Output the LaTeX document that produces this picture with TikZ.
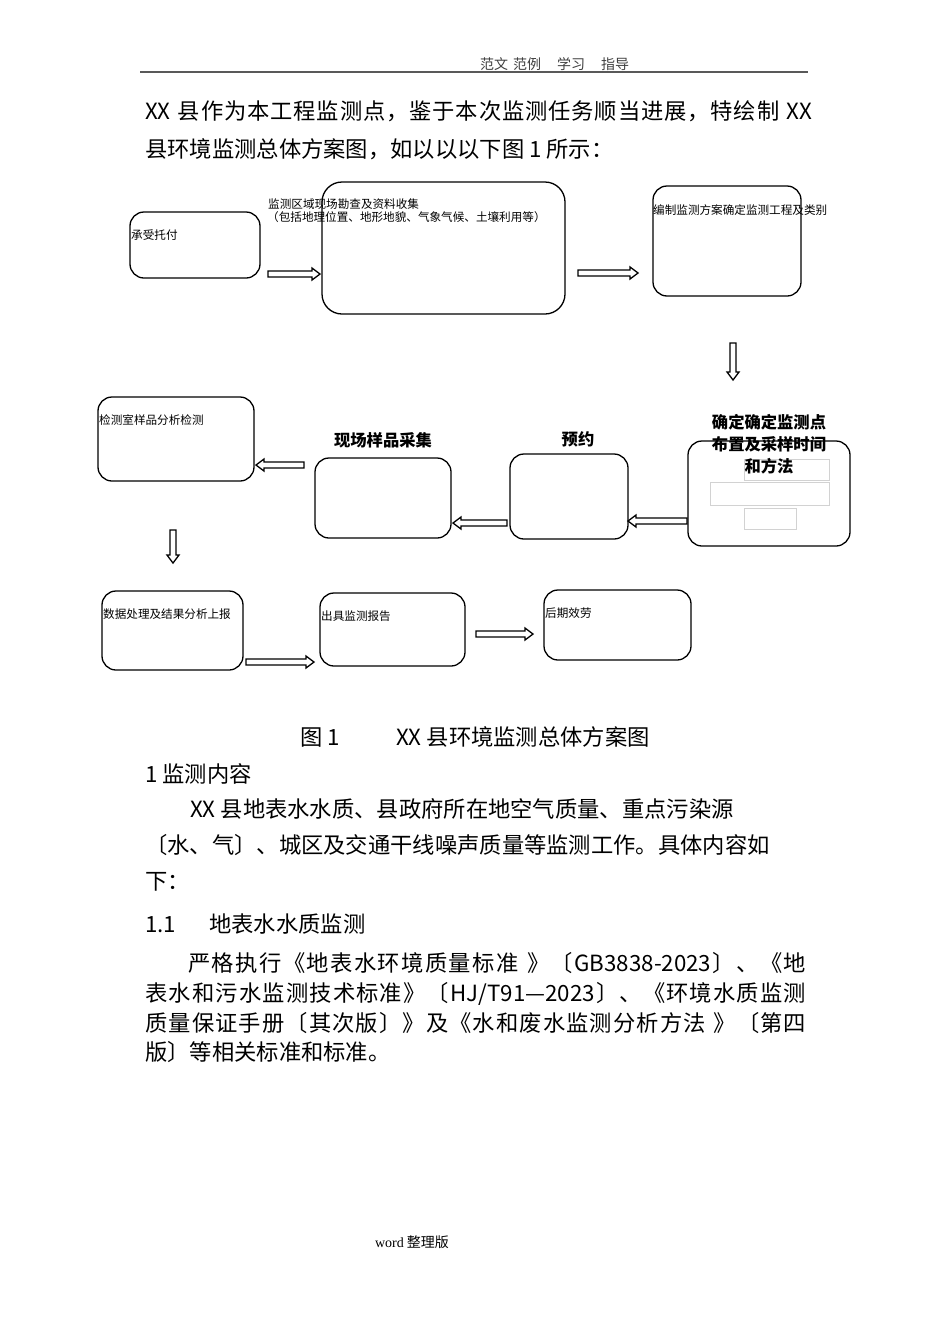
\documentclass[tikz,border=0pt]{standalone}
\usepackage{fontspec}
\setmainfont{Noto Sans CJK SC}
\newfontfamily\wordfont{Liberation Serif}
\newcount\cjkcc
\cjkcc="4E00
\loop\ifnum\cjkcc<"A000 \XeTeXcharclass\cjkcc=1 \advance\cjkcc by 1 \repeat
\XeTeXcharclass"300A=2 \XeTeXcharclass"3014=2 \XeTeXcharclass"FF08=2
\XeTeXcharclass"300B=3 \XeTeXcharclass"3015=3 \XeTeXcharclass"3001=3
\XeTeXcharclass"3002=3 \XeTeXcharclass"FF0C=3 \XeTeXcharclass"FF1A=3 \XeTeXcharclass"FF09=3
\XeTeXinterchartokenstate=1
\XeTeXinterchartoks 0 1 = {\hskip 0pt plus 1pt}
\XeTeXinterchartoks 0 2 = {\hskip 0pt plus 1pt}
\XeTeXinterchartoks 0 3 = {\hskip 0pt plus 1pt}
\XeTeXinterchartoks 1 0 = {\hskip 0pt plus 1pt}
\XeTeXinterchartoks 1 1 = {\hskip 0pt plus 1pt}
\XeTeXinterchartoks 1 2 = {\hskip 0pt plus 1pt}
\XeTeXinterchartoks 1 3 = {\hskip 0pt plus 1pt}
\XeTeXinterchartoks 2 0 = {\hskip 0pt plus 1pt}
\XeTeXinterchartoks 2 1 = {\hskip 0pt plus 1pt}
\XeTeXinterchartoks 2 2 = {\hskip 0pt plus 1pt}
\XeTeXinterchartoks 2 3 = {\hskip 0pt plus 1pt}
\XeTeXinterchartoks 3 0 = {\hskip 0pt plus 1pt}
\XeTeXinterchartoks 3 1 = {\hskip 0pt plus 1pt}
\XeTeXinterchartoks 3 2 = {\hskip 0pt plus 1pt}
\XeTeXinterchartoks 3 3 = {\hskip 0pt plus 1pt}
\tikzset{
  box/.style={draw, line width=1.3pt, rounded corners=14pt, inner sep=0pt},
  lbl/.style={font=\fontsize{11.6}{13}\selectfont, anchor=base west, inner sep=0pt},
  blbl/.style={font=\fontsize{16.3}{22}\selectfont\bfseries, align=center, inner sep=0pt},
  body/.style={font=\fontsize{22.3}{26}\selectfont, anchor=base west, inner sep=0pt},
  blk/.style={draw, line width=1.3pt, fill=white, line join=miter},
  gbox/.style={draw=gray!35, line width=0.6pt},
}
% horizontal hollow block arrow: tail x, tip x, y
\newcommand\blkh[3]{%
  \pgfmathsetmacro\hbx{#2-8*sign(#2-#1)}%
  \draw[blk] (#1,{#3-3}) -- (\hbx,{#3-3}) -- (\hbx,{#3-6}) -- (#2,#3)
    -- (\hbx,{#3+6}) -- (\hbx,{#3+3}) -- (#1,{#3+3}) -- cycle;}
% vertical (downward) hollow block arrow: x, tail y, tip y
\newcommand\blkv[3]{%
  \pgfmathsetmacro\hby{#3-8}%
  \draw[blk] ({#1-3},#2) -- ({#1-3},\hby) -- ({#1-6},\hby) -- (#1,#3)
    -- ({#1+6},\hby) -- ({#1+3},\hby) -- ({#1+3},#2) -- cycle;}
\begin{document}
\begin{tikzpicture}[x=1pt,y=-1pt]
\useasboundingbox (0,0) rectangle (950,1344);
\fill[white] (0,0) rectangle (950,1344);

% header
\node[anchor=base west, inner sep=0pt, font=\fontsize{14}{16}\selectfont, text=black!75] (hdr) at (480,69.3)
  {范文\hspace{5pt}范例\hspace{16pt}学习\hspace{16pt}指导};
\draw[line width=1.8pt, black!65] (140,72) -- (808,72);

% intro paragraph
\node[body] (p1a) at (145,119.5) {\makebox[667pt][s]{XX 县作为本工程监测点，鉴于本次监测任务顺当进展，特绘制 XX}};
\node[body] (p1b) at (145,157.5) {县环境监测总体方案图，如以以以下图 1 所示：};

% flow chart boxes
\node[box, minimum width=130pt, minimum height=66pt] (b1) at (195,245) {};
\node[box, rounded corners=20pt, minimum width=243pt, minimum height=132pt] (b2) at (443.5,248) {};
\node[box, minimum width=148pt, minimum height=110pt] (b3) at (727,241) {};
\node[box, minimum width=156pt, minimum height=84pt] (b4) at (176,439) {};
\node[box, minimum width=136pt, minimum height=80pt] (b5) at (383,498) {};
\node[box, minimum width=118pt, minimum height=85pt] (b6) at (569,496.5) {};
\node[box, minimum width=162pt, minimum height=105pt] (b7) at (769,493.5) {};
\node[box, minimum width=141pt, minimum height=79pt] (b8) at (172.5,630.5) {};
\node[box, minimum width=145pt, minimum height=73pt] (b9) at (392.5,629.5) {};
\node[box, minimum width=147pt, minimum height=70pt] (b10) at (617.5,625) {};

% thin grey frames inside box 7
\draw[gbox] (744,459) rectangle (829,480);
\draw[gbox] (710,482) rectangle (829,505);
\draw[gbox] (744,508) rectangle (796,529);

% labels
\node[lbl] (l1) at (131,239.4) {承受托付};
\node[lbl] (l2a) at (268,208.4) {监测区域现场勘查及资料收集};
\node[lbl] (l2b) at (267,221.4) {（包括地理位置、地形地貌、气象气候、土壤利用等）};
\node[lbl] (l3) at (653,214.4) {编制监测方案确定监测工程及类别};
\node[lbl] (l4) at (99,424.4) {检测室样品分析检测};
\node[blbl] (l5) at (383,440) {现场样品采集};
\node[blbl] (l6) at (578,439) {预约};
\node[blbl] (l7) at (769,444) {确定确定监测点\\布置及采样时间\\和方法};
\node[lbl] (l8) at (103,618.4) {数据处理及结果分析上报};
\node[lbl] (l9) at (321,620.4) {出具监测报告};
\node[lbl] (l10) at (545,617.4) {后期效劳};

% block arrows
\blkh{268}{320}{274}
\blkh{578}{638}{273}
\blkv{733}{343}{380}
\blkh{687}{628}{521}
\blkh{507}{453}{523}
\blkh{304}{256}{465}
\blkv{173}{530}{563}
\blkh{246}{314}{662}
\blkh{476}{533}{634}

% caption and text
\node[body] (cap1) at (300,745.5) {图 1};
\node[body] (cap2) at (396,745.5) {XX 县环境监测总体方案图};
\node[body] (h1) at (145,782.5) {1 监测内容};
\node[body] (p2a) at (190,817.5) {XX 县地表水水质、县政府所在地空气质量、重点污染源};
\node[body] (p2b) at (145,853.5) {〔水、气〕、城区及交通干线噪声质量等监测工作。具体内容如};
\node[body] (p2c) at (145,889.5) {下：};
\node[body] (h2a) at (145,932.5) {1.1};
\node[body] (h2b) at (209,932.5) {地表水水质监测};
\node[body] (p3a) at (188,971.5) {\makebox[618pt][s]{严格执行《地表水环境质量标准 》〔GB3838-2023〕、《地}};
\node[body] (p3b) at (145,1001.5) {\makebox[661pt][s]{表水和污水监测技术标准》〔HJ/T91—2023〕、《环境水质监测}};
\node[body] (p3c) at (145,1031.5) {\makebox[661pt][s]{质量保证手册〔其次版〕》及《水和废水监测分析方法 》〔第四}};
\node[body] (p3d) at (145,1060.5) {版〕等相关标准和标准。};

% footer
\node[inner sep=0pt, font=\fontsize{14}{16}\selectfont] (ftr) at (412,1242) {{\wordfont word} 整理版};
\end{tikzpicture}
\end{document}
